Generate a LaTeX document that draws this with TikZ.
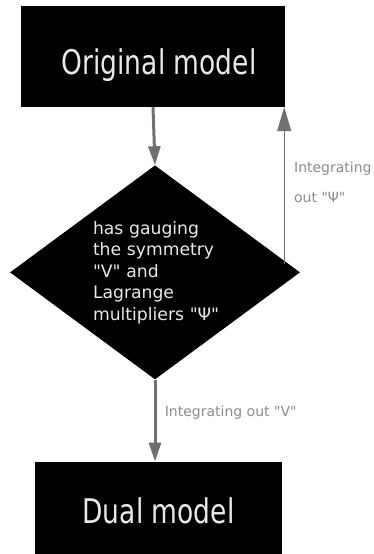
\documentclass[tikz,border=0pt]{standalone}
\usepackage{fontspec}
\setmainfont[Ligatures=TeXOff]{DejaVu Sans}
\newfontfamily\titlefont[FakeStretch=0.78,Ligatures=TeXOff]{DejaVu Sans}
\usetikzlibrary{positioning,shapes.geometric,arrows.meta}
\definecolor{arrowgray}{HTML}{707070}
\definecolor{labelgray}{HTML}{8C8C8C}
\definecolor{boxtext}{HTML}{E8E8E8}

\begin{document}
\begin{tikzpicture}[
  x=1pt, y=1pt,
  model/.style={rectangle, fill=black, text=boxtext, inner sep=0pt,
    font=\titlefont\fontsize{34}{40}\selectfont},
  decision/.style={diamond, fill=black, inner sep=0pt,
    minimum width=290pt, minimum height=214pt},
  dectext/.style={text=boxtext, text width=150pt, align=left, inner sep=0pt,
    font=\fontsize{17.2}{21.5}\selectfont},
  flow/.style={draw=arrowgray, line width=3pt,
    -{Triangle[length=19pt,width=12pt]}},
  back/.style={draw=arrowgray, line width=1.2pt,
    -{Triangle[length=24pt,width=14pt]}},
  steplabel/.style={text=labelgray, align=left,
    font=\fontsize{14}{30}\selectfont}
  ]

  \useasboundingbox (0,0) rectangle (374,554);

  \node[model, minimum width=264pt, minimum height=101pt,
    text height=40pt, text depth=3pt] (orig) at (153,497.5) {\hspace*{12pt}Original model};
  \node[decision, below=58pt of orig, xshift=2pt] (dia) {};
  \node[dectext] (diatext) at ([xshift=13pt]dia.center)
    {has gauging\\the symmetry\\"V" and\\Lagrange\\multipliers "Ψ"};
  \node[model, minimum width=247pt, minimum height=93pt,
    text height=34pt, text depth=3pt, below=82pt of dia, xshift=3.5pt] (dual) {Dual model};

  % integrating out V
  \draw[flow] (orig.south) -- (dia.north);
  \draw[flow] (dia.south) -- (dia.south |- dual.north)
    node[steplabel, right, pos=0.4, xshift=5pt] (vlabel) {Integrating out "V"};

  % integrating out Psi
  \coordinate[yshift=8pt] (psifoot) at ([xshift=-1pt]orig.south east |- dia.east);
  \draw[back] (psifoot) -- (psifoot |- orig.south)
    node[steplabel, right, pos=0.5, xshift=6pt, yshift=4pt] (psilabel) {Integrating\\out "Ψ"};
\end{tikzpicture}
\end{document}
